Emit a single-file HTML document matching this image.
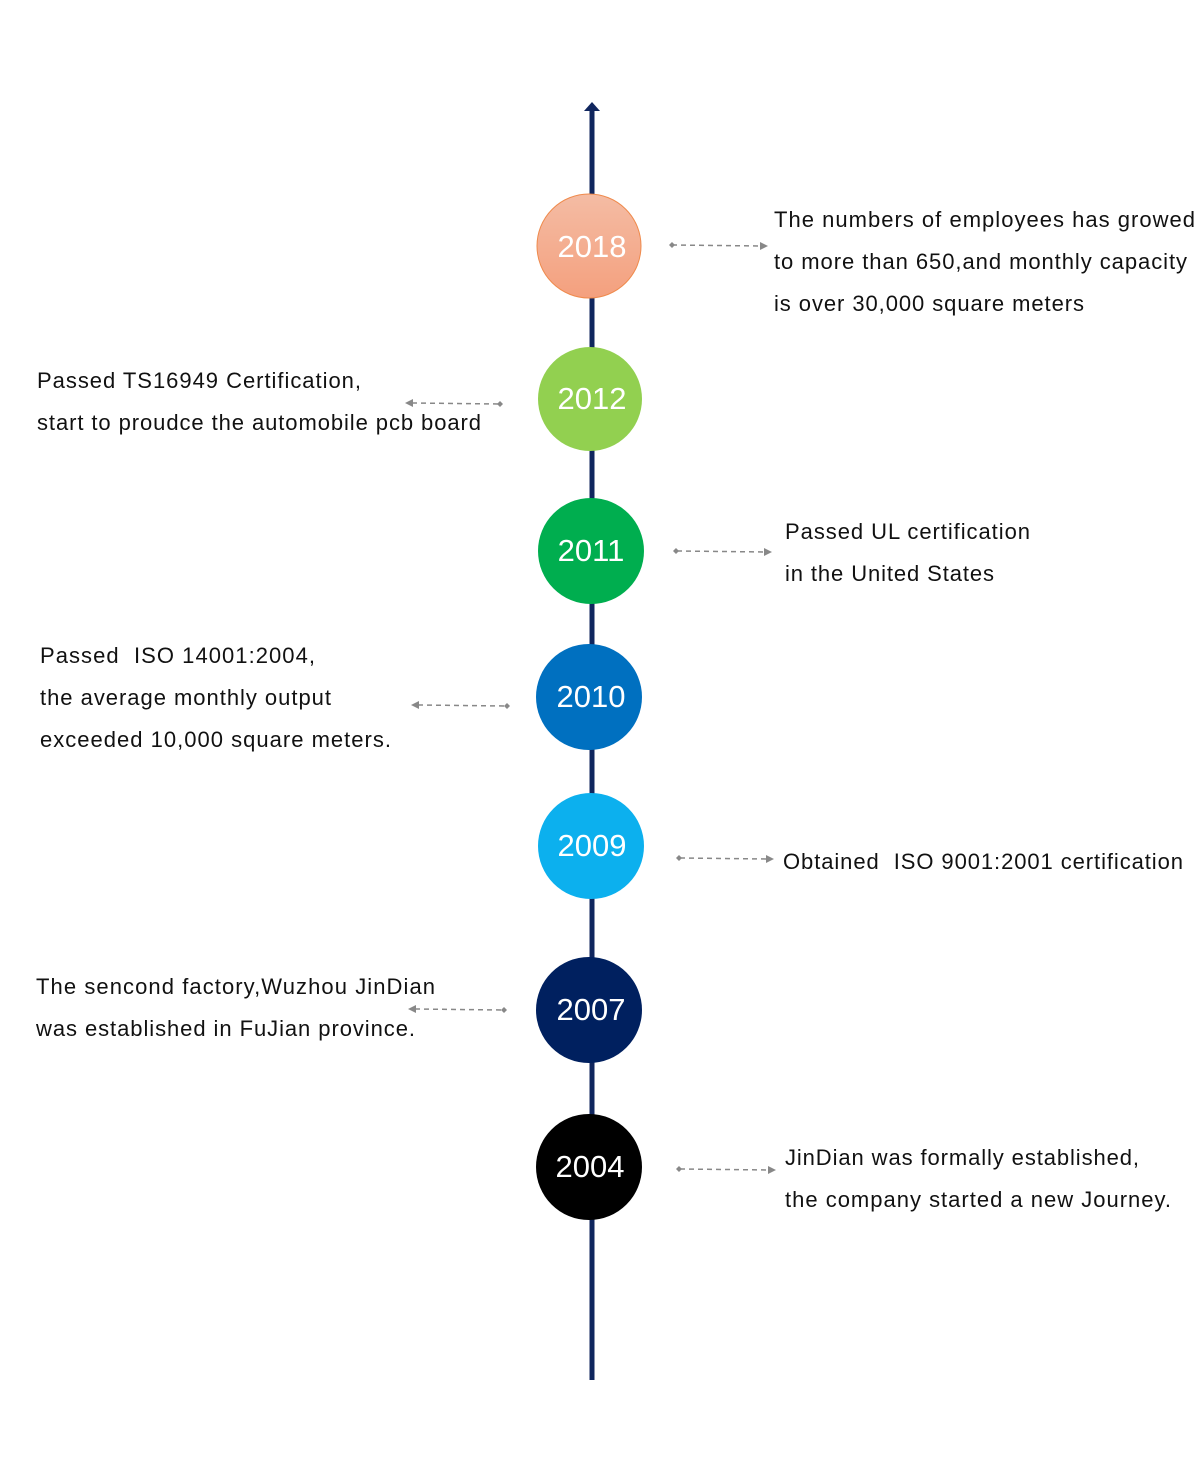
<!DOCTYPE html>
<html><head><meta charset="utf-8"><style>
html,body{margin:0;padding:0;background:#fff}
svg{display:block}
text{font-family:"Liberation Sans",Arial,sans-serif}
.t{font-size:22px;fill:#111}
.y{font-size:31px;fill:#fff;text-anchor:middle}
.c{stroke:#888;stroke-width:1.5;stroke-dasharray:5,4;fill:none}
</style></head><body>
<svg width="1203" height="1484" viewBox="0 0 1203 1484">
<defs>
<linearGradient id="g18" x1="0" y1="0" x2="0" y2="1"><stop offset="0" stop-color="#f4bca4"/><stop offset="1" stop-color="#f4a07e"/></linearGradient>
</defs>
<rect x="589.5" y="110" width="5" height="1270" fill="#10265e"/>
<polygon points="592,102 600,111 584,111" fill="#10265e"/>

<circle cx="589" cy="246" r="52" fill="url(#g18)" stroke="#ef8a4c" stroke-width="1"/>
<text class="y" x="592" y="257">2018</text>
<circle cx="590" cy="399" r="52" fill="#92d050"/>
<text class="y" x="592" y="409">2012</text>
<circle cx="591" cy="551" r="53" fill="#00ae4f"/>
<text class="y" x="591" y="561">2011</text>
<circle cx="589" cy="697" r="53" fill="#0070c0"/>
<text class="y" x="591" y="707">2010</text>
<circle cx="591" cy="846" r="53" fill="#0cb0ee"/>
<text class="y" x="592" y="856">2009</text>
<circle cx="589" cy="1010" r="53" fill="#00205f"/>
<text class="y" x="591" y="1020">2007</text>
<circle cx="589" cy="1167" r="53" fill="#000"/>
<text class="y" x="590" y="1177">2004</text>

<g>
<path class="c" d="M672 245 L762 246"/><polygon points="669,245 672,242 675,245 672,248" fill="#888"/><polygon points="768,246 760,242 760,250" fill="#888"/>
<path class="c" d="M677 551 L766 552"/><polygon points="673,551 676,548 679,551 676,554" fill="#888"/><polygon points="772,552 764,548 764,556" fill="#888"/>
<path class="c" d="M680 858 L768 859"/><polygon points="676,858 679,855 682,858 679,861" fill="#888"/><polygon points="774,859 766,855 766,863" fill="#888"/>
<path class="c" d="M680 1169 L770 1170"/><polygon points="676,1169 679,1166 682,1169 679,1172" fill="#888"/><polygon points="776,1170 768,1166 768,1174" fill="#888"/>
<path class="c" d="M412 403 L500 404"/><polygon points="405,403 413,399 413,407" fill="#888"/><polygon points="503,404 500,401 497,404 500,407" fill="#888"/>
<path class="c" d="M418 705 L506 706"/><polygon points="411,705 419,701 419,709" fill="#888"/><polygon points="510,706 507,703 504,706 507,709" fill="#888"/>
<path class="c" d="M415 1009 L503 1010"/><polygon points="408,1009 416,1005 416,1013" fill="#888"/><polygon points="507,1010 504,1007 501,1010 504,1013" fill="#888"/>
</g>

<text class="t" x="774" y="227" textLength="421" lengthAdjust="spacing">The numbers of employees has growed</text>
<text class="t" x="774" y="269" textLength="413" lengthAdjust="spacing">to more than 650,and monthly capacity</text>
<text class="t" x="774" y="311" textLength="310" lengthAdjust="spacing">is over 30,000 square meters</text>

<text class="t" x="37" y="388" textLength="324" lengthAdjust="spacing">Passed TS16949 Certification,</text>
<text class="t" x="37" y="430" textLength="444" lengthAdjust="spacing">start to proudce the automobile pcb board</text>

<text class="t" x="785" y="539" textLength="245" lengthAdjust="spacing">Passed UL certification</text>
<text class="t" x="785" y="581" textLength="209" lengthAdjust="spacing">in the United States</text>

<text class="t" x="40" y="663" textLength="275" lengthAdjust="spacing">Passed&#160; ISO 14001:2004,</text>
<text class="t" x="40" y="705" textLength="291" lengthAdjust="spacing">the average monthly output</text>
<text class="t" x="40" y="747" textLength="351" lengthAdjust="spacing">exceeded 10,000 square meters.</text>

<text class="t" x="783" y="869" textLength="400" lengthAdjust="spacing">Obtained&#160; ISO 9001:2001 certification</text>

<text class="t" x="36" y="994" textLength="399" lengthAdjust="spacing">The sencond factory,Wuzhou JinDian</text>
<text class="t" x="36" y="1036" textLength="379" lengthAdjust="spacing">was established in FuJian province.</text>

<text class="t" x="785" y="1165" textLength="354" lengthAdjust="spacing">JinDian was formally established,</text>
<text class="t" x="785" y="1207" textLength="386" lengthAdjust="spacing">the company started a new Journey.</text>
</svg>
</body></html>
